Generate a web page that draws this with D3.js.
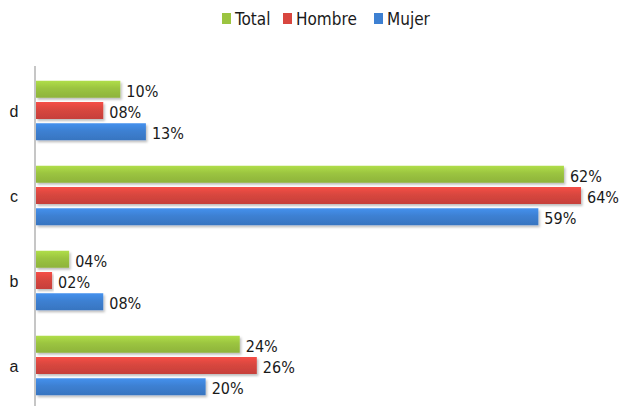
<!DOCTYPE html>
<html>
<head>
<meta charset="utf-8">
<script src="https://cdn.jsdelivr.net/npm/d3@7"></script>
<style>
  body { margin: 0; background: #fff; }
  text { font-family: "Liberation Sans Narrow", "DejaVu Sans Condensed", sans-serif; fill: #1a1a1a; }
</style>
</head>
<body>
<div id="chart"></div>
<script>
const categories = ["d", "c", "b", "a"];
const seriesNames = ["Total", "Hombre", "Mujer"];
const total = [10, 62, 4, 24];
const hombre = [8, 64, 2, 26];
const mujer = [13, 59, 8, 20];
const valueLabels = {
  Total: ["10%", "62%", "04%", "24%"],
  Hombre: ["08%", "64%", "02%", "26%"],
  Mujer: ["13%", "59%", "08%", "20%"]
};
const colors = { Total: "#9bc440", Hombre: "#d8463f", Mujer: "#3d80d2" };

const width = 622, height = 406;
const svg = d3.select("#chart").append("svg")
  .attr("width", width)
  .attr("height", height);

const defs = svg.append("defs");
seriesNames.forEach(s => {
  const g = defs.append("linearGradient")
    .attr("id", "grad-" + s)
    .attr("x1", 0).attr("y1", 0).attr("x2", 0).attr("y2", 1);
  g.append("stop").attr("offset", "0%").attr("stop-color", d3.color(colors[s]).brighter(0.35));
  g.append("stop").attr("offset", "45%").attr("stop-color", colors[s]);
  g.append("stop").attr("offset", "100%").attr("stop-color", d3.color(colors[s]).darker(0.25));
});
const shadow = defs.append("filter").attr("id", "shadow")
  .attr("x", "-5%").attr("y", "-20%").attr("width", "115%").attr("height", "160%");
shadow.append("feDropShadow")
  .attr("dx", 1.5).attr("dy", 2).attr("stdDeviation", 1.2)
  .attr("flood-color", "#000").attr("flood-opacity", 0.25);

const rows = categories.map((c, i) => ({
  cat: c,
  values: [
    { key: "Total", v: total[i], label: valueLabels.Total[i] },
    { key: "Hombre", v: hombre[i], label: valueLabels.Hombre[i] },
    { key: "Mujer", v: mujer[i], label: valueLabels.Mujer[i] }
  ]
}));

const x = d3.scaleLinear().domain([0, 64]).range([35, 581]);
const y0 = d3.scaleBand().domain(categories).range([68, 408])
  .paddingInner(0.3).paddingOuter(0.15);
const y1 = d3.scaleBand().domain(seriesNames).range([0, y0.bandwidth()])
  .paddingInner(0.2);

// vertical axis line
svg.append("line")
  .attr("x1", x(0)).attr("x2", x(0))
  .attr("y1", 66).attr("y2", height)
  .attr("stroke", "#a0a0a0").attr("stroke-width", 1.2);

const groups = svg.selectAll("g.group")
  .data(rows)
  .enter()
  .append("g")
  .attr("class", "group")
  .attr("transform", d => "translate(0," + y0(d.cat) + ")");

groups.selectAll("rect")
  .data(d => d.values)
  .enter()
  .append("rect")
  .attr("x", x(0) + 1)
  .attr("y", d => y1(d.key))
  .attr("width", d => x(d.v) - x(0) - 1)
  .attr("height", y1.bandwidth())
  .attr("fill", d => "url(#grad-" + d.key + ")")
  .attr("filter", "url(#shadow)");

groups.selectAll("text.val")
  .data(d => d.values)
  .enter()
  .append("text")
  .attr("class", "val")
  .attr("x", d => x(d.v) + 6)
  .attr("y", d => y1(d.key) + y1.bandwidth() / 2 + 2)
  .attr("dominant-baseline", "central")
  .style("font-size", "16px")
  .text(d => d.label);

// category labels
svg.selectAll("text.cat")
  .data(categories)
  .enter()
  .append("text")
  .attr("class", "cat")
  .attr("x", 14)
  .attr("y", d => y0(d) + y0.bandwidth() / 2 + 1)
  .attr("text-anchor", "middle")
  .attr("dominant-baseline", "central")
  .style("font-family", "'Liberation Sans', sans-serif")
  .style("font-size", "16px")
  .text(d => d);

// legend
const legendX = [222, 283, 374];
const legend = svg.selectAll("g.legend")
  .data(seriesNames)
  .enter()
  .append("g")
  .attr("class", "legend")
  .attr("transform", (d, i) => "translate(" + legendX[i] + ",13)");

legend.append("rect")
  .attr("width", 9).attr("height", 11)
  .attr("fill", d => colors[d]);

legend.append("text")
  .attr("x", 13)
  .attr("y", 6)
  .attr("dominant-baseline", "central")
  .style("font-size", "17px")
  .text(d => d);
</script>
</body>
</html>
